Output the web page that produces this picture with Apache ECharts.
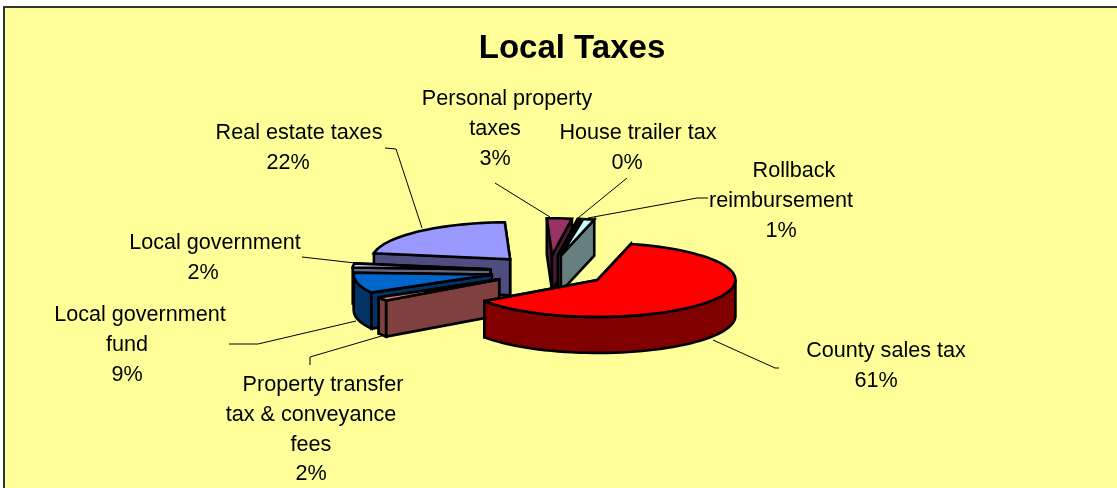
<!DOCTYPE html>
<html>
<head>
<meta charset="utf-8">
<style>
  html, body { margin: 0; padding: 0; background: #fff; }
  #chart { width: 1117px; height: 488px; }
</style>
<script src="https://cdn.jsdelivr.net/npm/echarts@6/dist/echarts.min.js"></script>
</head>
<body>
<div id="chart"></div>
<script>
const categories = ['County sales tax', 'Property transfer tax & conveyance fees', 'Local government fund', 'Local government', 'Real estate taxes', 'Personal property taxes', 'House trailer tax', 'Rollback reimbursement']
const values = [61.4, 1.6, 8.9, 1.8, 21.8, 2.9, 0.3, 1.3]
const labelLines = [
  ['County sales tax'],
  ['Property transfer', 'tax & conveyance', 'fees'],
  ['Local government', 'fund'],
  ['Local government'],
  ['Real estate taxes'],
  ['Personal property', 'taxes'],
  ['House trailer tax'],
  ['Rollback', 'reimbursement']
]
const topColors = ['#FF0000', '#FF8080', '#0066CC', '#CCCCFF', '#9999FF', '#993366', '#FFFFCC', '#CCFFFF']
const sideColors = ['#800000', '#804040', '#003366', '#666680', '#4D4D80', '#4D1A33', '#808066', '#668080']

// back to front, the pie has no depth sorting of its own
const drawOrder = [4, 5, 6, 7, 3, 2, 1, 0]

const pie = { cx: 549, cy: 271, rx: 138, ry: 37, depth: 36, explode: 0.426, start: -76 }

// [centre x, first line y, shift of first line]
const labelPlace = [
  [876, 351, 10], [311, 385, 12], [127, 315, 13], [203, 243, 12],
  [288, 133, 11], [495, 99, 12], [627, 133, 11], [781, 171, 13]
]
const leaders = [
  [[713, 340], [775, 368], [779, 368]],
  [[310, 365], [310, 357], [385, 335]],
  [[229, 344], [258, 344], [356, 321]],
  [[302, 257], [355, 263]],
  [[385, 148], [396, 149], [422, 228]],
  [[495, 183], [550, 217]],
  [[627, 178], [578, 218]],
  [[708, 198], [697, 198], [588, 218]]
]

const total = values.reduce((a, b) => a + b, 0)
let running = pie.start
const slices = values.map(v => {
  const from = running
  running += (v / total) * 360
  return { from: from, to: running }
})

function rad(d) {
  return (d * Math.PI) / 180
}

function arcPoints(o, from, to, dy) {
  const pts = []
  const n = Math.max(2, Math.ceil((to - from) / 3))
  for (let i = 0; i <= n; i++) {
    const t = rad(from + ((to - from) * i) / n)
    pts.push([o[0] + pie.rx * Math.cos(t), o[1] + pie.ry * Math.sin(t) + dy])
  }
  return pts
}

function renderSlice(params, api) {
  const s = slices[api.value(0)]
  const mid = rad((s.from + s.to) / 2)
  const o = [
    pie.cx + pie.explode * pie.rx * Math.cos(mid),
    pie.cy + pie.explode * pie.ry * Math.sin(mid)
  ]
  const side = { fill: sideColors[api.value(0)], stroke: '#000', lineWidth: 2.6, lineJoin: 'miter', miterLimit: 3 }
  const top = { fill: topColors[api.value(0)], stroke: '#000', lineWidth: 2.6, lineJoin: 'miter', miterLimit: 3 }
  const children = []

  // the two cut faces, the one further back goes first
  const cuts = [s.from, s.to].sort((a, b) => Math.sin(rad(a)) - Math.sin(rad(b)))
  cuts.forEach(a => {
    const p = arcPoints(o, a, a, 0)[0]
    children.push({
      type: 'polygon',
      shape: { points: [o, p, [p[0], p[1] + pie.depth], [o[0], o[1] + pie.depth]] },
      style: side
    })
  })

  // outer wall, only the part that faces the viewer
  for (let turn = -360; turn <= 360; turn += 360) {
    const a = Math.max(s.from, turn)
    const b = Math.min(s.to, turn + 180)
    if (b > a) {
      const upper = arcPoints(o, a, b, 0)
      const lower = arcPoints(o, a, b, pie.depth).reverse()
      children.push({ type: 'polygon', shape: { points: upper.concat(lower) }, style: side })
    }
  }

  children.push({
    type: 'polygon',
    shape: { points: [o].concat(arcPoints(o, s.from, s.to, 0)) },
    style: top
  })
  return { type: 'group', children: children }
}

const textFont = '21.6px "Liberation Sans", Arial, sans-serif'
const graphics = [
  {
    type: 'rect',
    z: -1,
    shape: { x: 4, y: 7, width: 1200, height: 600 },
    style: { fill: '#FFFF99', stroke: '#333', lineWidth: 2 }
  }
]

leaders.forEach(points => {
  graphics.push({
    type: 'polyline',
    z: 1,
    shape: { points: points },
    style: { fill: null, stroke: '#000', lineWidth: 1 }
  })
})

values.forEach((v, i) => {
  const place = labelPlace[i]
  const lines = labelLines[i].concat(Math.round((v / total) * 100) + '%')
  lines.forEach((line, k) => {
    graphics.push({
      type: 'text',
      z: 2,
      x: place[0] + (k === 0 ? place[2] : 0),
      y: place[1] + k * 29.8,
      style: { text: line, font: textFont, fill: '#000', align: 'center', verticalAlign: 'middle' }
    })
  })
})

const chart = echarts.init(document.getElementById('chart'))
chart.setOption({
  animation: false,
  backgroundColor: '#fff',
  title: {
    text: 'Local Taxes',
    left: 567,
    top: 27,
    textAlign: 'center',
    textStyle: { fontFamily: 'Liberation Sans', fontSize: 33, fontWeight: 'bold', color: '#000' }
  },
  graphic: graphics,
  series: [
    {
      type: 'custom',
      coordinateSystem: 'none',
      silent: true,
      renderItem: renderSlice,
      data: drawOrder.map(i => ({ name: categories[i], value: [i, values[i]] }))
    }
  ]
})
</script>
</body>
</html>
